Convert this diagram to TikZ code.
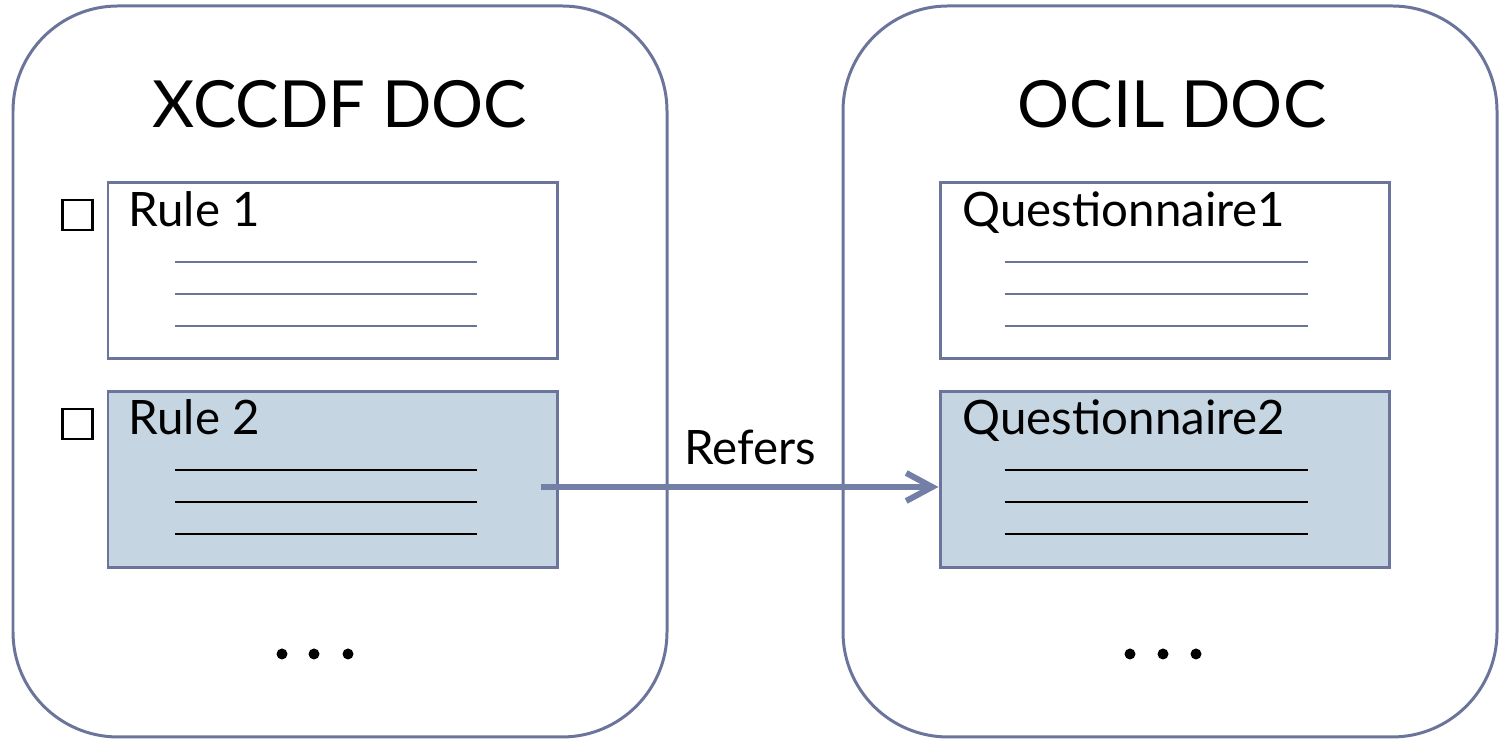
\documentclass[tikz,border=0pt]{standalone}
\usepackage{fontspec}
\setmainfont{Lato}
\usetikzlibrary{arrows.meta}
\definecolor{docline}{RGB}{107,116,154}
\definecolor{rulefill}{RGB}{197,213,226}
\definecolor{refblue}{RGB}{116,127,166}

\begin{document}
\begin{tikzpicture}[
  docbox/.style={draw=docline, line width=0.85pt, rounded corners=1.05cm,
    minimum width=6.54cm, minimum height=7.31cm},
  rulebox/.style={draw=docline, line width=0.85pt, inner sep=0pt,
    minimum width=4.49cm, minimum height=1.76cm},
  checkbox/.style={draw=black, line width=0.75pt, minimum size=0.3cm, inner sep=0pt},
  doctitle/.style={anchor=base, font=\fontsize{18.5}{21}\selectfont},
  rulelabel/.style={anchor=base west, font=\fontsize{13.5}{16}\selectfont, inner sep=0pt},
  refarrow/.style={draw=refblue, line width=1.7pt,
    -{Straight Barb[length=2.6mm, width=2.8mm]}}
]
\useasboundingbox (0,0) rectangle (15.01,7.43);

% XCCDF document
\node[docbox] (xccdf) at (3.40,3.715) {};
\node[doctitle] (xccdftitle) at (3.40,6.15) {XCCDF DOC};
\node[rulebox, fill=white] (rule1) at (3.325,4.725) {};
\node[rulebox, fill=rulefill] (rule2) at (3.325,2.635) {};
\node[rulelabel] (rule1label) at (1.28,5.16) {Rule 1};
\node[rulelabel] (rule2label) at (1.28,3.08) {Rule 2};
\node[checkbox] (check1) at (0.775,5.28) {};
\node[checkbox] (check2) at (0.775,3.19) {};
\foreach \y in {4.81,4.49,4.17}
  \draw[docline, line width=0.7pt] (1.75,\y) -- (4.77,\y);
\foreach \y in {2.73,2.41,2.09}
  \draw[black, line width=0.7pt] (1.75,\y) -- (4.77,\y);
\foreach \x in {2.82,3.14,3.48}
  \fill (\x,0.89) circle (0.055);

% OCIL document
\node[docbox] (ocil) at (11.70,3.715) {};
\node[doctitle] (ociltitle) at (11.72,6.15) {OCIL DOC};
\node[rulebox, fill=white] (quest1) at (11.645,4.725) {};
\node[rulebox, fill=rulefill] (quest2) at (11.645,2.635) {};
\node[rulelabel] (quest1label) at (9.62,5.16) {Questionnaire1};
\node[rulelabel] (quest2label) at (9.62,3.08) {Questionnaire2};
\foreach \y in {4.81,4.49,4.17}
  \draw[docline, line width=0.7pt] (10.05,\y) -- (13.08,\y);
\foreach \y in {2.73,2.41,2.09}
  \draw[black, line width=0.7pt] (10.05,\y) -- (13.08,\y);
\foreach \x in {11.30,11.63,11.96}
  \fill (\x,0.89) circle (0.055);

% Reference
\coordinate (refstart) at (5.41,2.56);
\draw[refarrow] (refstart) -- (quest2.west |- refstart);
\node[font=\fontsize{13.5}{16}\selectfont, anchor=base] (refers) at (7.50,2.78) {Refers};
\end{tikzpicture}
\end{document}
